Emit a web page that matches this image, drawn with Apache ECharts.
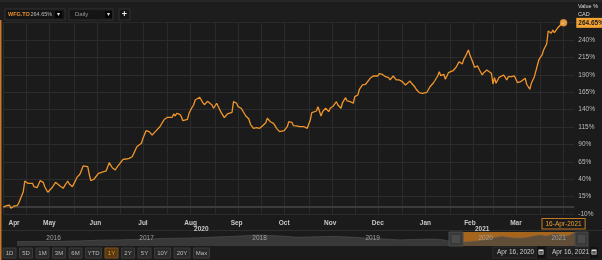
<!DOCTYPE html>
<html><head><meta charset="utf-8">
<script src="https://cdn.jsdelivr.net/npm/echarts@6/dist/echarts.min.js"></script>
<style>html,body{margin:0;padding:0;background:#1b1b1b}#c{width:602px;height:260px}</style>
</head><body><div id="c"></div>
<script>
// ---- data ----
const dates = ['2020-04-16','2020-04-18','2020-04-20','2020-04-21','2020-04-23','2020-04-25','2020-04-26','2020-04-27','2020-04-29','2020-04-30',
'2020-05-02','2020-05-03','2020-05-05','2020-05-06','2020-05-08','2020-05-09','2020-05-10','2020-05-12','2020-05-13','2020-05-15','2020-05-16','2020-05-18','2020-05-20','2020-05-21','2020-05-23','2020-05-25','2020-05-26','2020-05-28','2020-05-29','2020-05-31',
'2020-06-02','2020-06-03','2020-06-05','2020-06-07','2020-06-08','2020-06-10','2020-06-11','2020-06-12','2020-06-14','2020-06-15','2020-06-17','2020-06-19','2020-06-20','2020-06-22','2020-06-24','2020-06-26','2020-06-28','2020-06-29',
'2020-07-01','2020-07-03','2020-07-05','2020-07-07','2020-07-09','2020-07-10','2020-07-12','2020-07-13','2020-07-15','2020-07-16','2020-07-18','2020-07-20','2020-07-22','2020-07-24','2020-07-25','2020-07-27','2020-07-29','2020-07-30',
'2020-08-01','2020-08-02','2020-08-04','2020-08-05','2020-08-06','2020-08-07','2020-08-08','2020-08-09','2020-08-10','2020-08-11','2020-08-12','2020-08-14','2020-08-15','2020-08-17','2020-08-18','2020-08-19','2020-08-20','2020-08-22','2020-08-23','2020-08-24','2020-08-25','2020-08-27','2020-08-28','2020-08-30','2020-08-31',
'2020-09-02','2020-09-03','2020-09-05','2020-09-06','2020-09-07','2020-09-09','2020-09-10','2020-09-12','2020-09-13','2020-09-15','2020-09-16','2020-09-18','2020-09-21','2020-09-23','2020-09-24','2020-09-26','2020-09-28','2020-09-30',
'2020-10-02','2020-10-04','2020-10-05','2020-10-07','2020-10-09','2020-10-10','2020-10-11','2020-10-13','2020-10-14','2020-10-16','2020-10-18','2020-10-19','2020-10-21','2020-10-22','2020-10-24','2020-10-26','2020-10-27','2020-10-29','2020-10-30','2020-10-31',
'2020-11-02','2020-11-03','2020-11-04','2020-11-06','2020-11-07','2020-11-09','2020-11-10','2020-11-12','2020-11-14','2020-11-15','2020-11-17','2020-11-19','2020-11-20','2020-11-22','2020-11-23','2020-11-25','2020-11-26','2020-11-28','2020-11-30',
'2020-12-01','2020-12-03','2020-12-04','2020-12-06','2020-12-08','2020-12-09','2020-12-11','2020-12-13','2020-12-14','2020-12-16','2020-12-17','2020-12-19','2020-12-21','2020-12-23','2020-12-24','2020-12-26','2020-12-27','2020-12-28','2020-12-30',
'2021-01-01','2021-01-03','2021-01-04','2021-01-06','2021-01-07','2021-01-09','2021-01-10','2021-01-12','2021-01-14','2021-01-15','2021-01-17','2021-01-18','2021-01-19','2021-01-21','2021-01-22','2021-01-24','2021-01-25','2021-01-26','2021-01-28','2021-01-29','2021-01-31',
'2021-02-01','2021-02-03','2021-02-05','2021-02-07','2021-02-09','2021-02-10','2021-02-11','2021-02-13','2021-02-14','2021-02-16','2021-02-17','2021-02-19','2021-02-20','2021-02-22','2021-02-23','2021-02-25','2021-02-26','2021-02-28',
'2021-03-01','2021-03-02','2021-03-03','2021-03-05','2021-03-06','2021-03-08','2021-03-10','2021-03-11','2021-03-13','2021-03-15','2021-03-17','2021-03-19','2021-03-20','2021-03-22','2021-03-23','2021-03-25','2021-03-26','2021-03-28','2021-03-29','2021-03-31',
'2021-04-02','2021-04-03','2021-04-05','2021-04-06','2021-04-08','2021-04-09','2021-04-10','2021-04-12','2021-04-13','2021-04-14','2021-04-16'];
const values = [0,1.9,2.9,-1.8,1.5,1.9,5.4,7.7,22.0,37.4,
34.1,32.7,34.1,29.2,27.8,29.2,37.9,35.5,29.2,21.2,20.6,28.4,35.5,33.1,30.2,26.9,30.7,37.4,33.1,29.2,
37.9,42.7,47.5,59.0,60.4,58.0,47.0,37.9,39.9,42.7,48.5,49.9,49.9,51.8,63.7,56.5,53.2,57.1,
62.8,68.6,69.0,70.0,72.3,74.8,86.7,85.8,91.6,98.8,109.7,108.3,103.5,108.3,110.7,115.4,122.6,126.1,
128.9,127.5,128.9,133.7,130.8,134.7,135.6,133.3,129.8,124.1,124.1,126.1,134.7,143.3,146.6,153.8,156.3,157.7,156.3,149.9,147.0,151.9,151.4,146.6,141.9,
149.1,146.6,135.6,133.3,128.4,133.7,132.3,136.1,151.4,149.1,144.2,141.9,130.8,126.5,118.9,113.1,114.0,113.1,
116.9,121.2,127.5,122.6,120.3,116.9,113.1,108.3,110.7,109.7,115.4,122.6,121.8,116.9,116.5,115.4,116.9,115.4,117.9,113.1,
125.1,135.6,134.7,138.0,144.2,130.8,137.0,141.9,137.0,141.9,145.2,151.4,146.6,141.9,149.9,157.1,152.4,151.4,149.1,
158.6,161.0,169.2,175.4,176.4,177.8,185.0,188.3,189.7,188.3,191.6,190.5,187.3,185.9,182.6,188.3,188.3,182.6,182.6,
180.1,175.4,177.8,181.1,177.8,172.9,169.2,164.3,163.4,164.3,164.9,166.8,172.9,177.8,181.1,188.3,194.5,188.7,190.7,183.6,193.0,
192.2,195.9,200.8,208.9,205.6,212.3,216.0,225.7,218.5,207.4,200.8,202.7,197.9,189.7,193.0,196.9,199.4,192.2,
176.8,185.9,177.8,186.4,188.3,189.7,182.6,187.3,187.3,188.3,178.7,180.1,182.6,185.0,176.4,169.2,177.8,187.3,185.0,212.3,
218.5,225.7,234.3,253.0,249.7,254.4,250.5,256.8,257.7,261.6,264.65];
const yTicks = {min: -10, max: 265, step: 25};
const monthNames = ['Jan','Feb','Mar','Apr','May','Jun','Jul','Aug','Sep','Oct','Nov','Dec'];
const axisStart = '2020-04-16', axisEnd = '2021-04-23';
// navigator history (decimal year, relative level)
const navYears = [2016.354,2016.55,2016.73,2016.9,2017.09,2017.25,2017.4,2017.55,2017.68,2017.85,2017.97,2018.1,2018.27,2018.4,2018.48,2018.58,2018.68,2018.83,2018.95,2019.15,2019.3,2019.45,2019.6,2019.74,2019.88,2020.01,2020.1,2020.16,2020.23,2020.29,2020.37,2020.45,2020.55,2020.64,2020.75,2020.83,2020.92,2020.97,2021.04,2021.12,2021.17,2021.23,2021.29];
const navValues = [5,5.2,5.3,5.8,6.7,7.0,7.5,8.0,8.7,9.0,9.5,10.2,11,12,12.7,12.0,11.5,10,10.4,11,10.2,9,8,7,7.5,8,7.5,6,4,4.2,5.0,5.8,8.7,10.8,9.0,8.9,10.8,12.2,11.1,13.7,11.6,11.3,15.3];
const navYearLabels = [2016,2017,2018,2019,2020,2021];
const navRange = [2020.29, 2021.29];
const rangeButtons = ['1D','5D','1M','3M','6M','YTD','1Y','2Y','5Y','10Y','20Y','Max'];
const activeButton = '1Y';
const dateInputs = ['Apr 16, 2020','Apr 16, 2021'];
const ticker = 'WFG.TO', tickerVal = '264.65%', period = 'Daily';

// ---- categories: every calendar day on the axis ----
const cats = [];
{ let t = Date.parse(axisStart + 'T00:00:00Z'); const e = Date.parse(axisEnd + 'T00:00:00Z');
  while (t <= e) { cats.push(new Date(t).toISOString().slice(0,10)); t += 86400000; } }
const idxOf = {}; cats.forEach((c,i)=>idxOf[c]=i);
const lastIdx = idxOf[dates[dates.length-1]];
const lastVal = values[values.length-1];
const lineData = dates.map((d,i)=>[idxOf[d], values[i]]);

const monthCenter = {}; const yearCenter = {};
{ const spans = {}, ySpans = {};
  for (let i=0;i<=lastIdx;i++){ const k = cats[i].slice(0,7), y = cats[i].slice(0,4);
    (spans[k]=spans[k]||[i,i])[1]=i; (ySpans[y]=ySpans[y]||[i,i])[1]=i; }
  const keys = Object.keys(spans);
  keys.slice(0, keys.length-1).forEach(k=>{ const s=spans[k]; monthCenter[Math.floor((s[0]+s[1])/2)] = monthNames[+k.slice(5,7)-1]; });
  Object.keys(ySpans).forEach(y=>{ const s=ySpans[y]; yearCenter[Math.floor((s[0]+s[1])/2)] = y; });
}
function lastLabel(){ const d=new Date(dates[dates.length-1]+'T00:00:00Z'); return String(d.getUTCDate()).padStart(2,'0')+'-'+monthNames[d.getUTCMonth()]+'-'+d.getUTCFullYear(); }

const navStart = navYears[0], navEnd = navYears[navYears.length-1];
const navLabelPos = navYearLabels.map(y=>{ const a=Math.max(y,navStart), b=Math.min(y+1,navEnd); return (a+b)/2; });

const chart = echarts.init(document.getElementById('c'), null, {renderer:'canvas'});
const FONT = 'Liberation Sans';
const grid = '#2b2b2b';

const g = [];
g.push({type:'rect', shape:{x:0,y:0,width:602,height:21}, style:{fill:'#1d1d1d'}, z:-1});
g.push({type:'line', shape:{x1:0,y1:1,x2:602,y2:1}, style:{stroke:'#333',lineWidth:1}});
g.push({type:'line', shape:{x1:0,y1:230.5,x2:602,y2:230.5}, style:{stroke:'#2e2e2e',lineWidth:1}});
g.push({type:'rect', shape:{x:0,y:20,width:1.5,height:240}, style:{fill:'#c8782a'}});
g.push({type:'rect', shape:{x:5,y:9,width:60,height:11}, style:{fill:'#151515',stroke:'#333',lineWidth:1}});
g.push({type:'text', style:{x:8,y:14.5,text:ticker,fill:'#e8922a',font:'bold 5.5px '+FONT,verticalAlign:'middle'}});
g.push({type:'text', style:{x:30.5,y:14.5,text:tickerVal,fill:'#bbb',font:'5.5px '+FONT,verticalAlign:'middle'}});
g.push({type:'rect', shape:{x:55,y:11,width:7,height:7}, style:{fill:'#050505'}});
g.push({type:'text', style:{x:58.5,y:14.5,text:'▾',fill:'#ddd',font:'6px '+FONT,align:'center',verticalAlign:'middle'}});
g.push({type:'rect', shape:{x:69,y:9,width:44,height:11}, style:{fill:'#151515',stroke:'#333',lineWidth:1}});
g.push({type:'text', style:{x:75,y:14.5,text:period,fill:'#999',font:'6px '+FONT,verticalAlign:'middle'}});
g.push({type:'rect', shape:{x:105,y:11,width:7,height:7}, style:{fill:'#050505'}});
g.push({type:'text', style:{x:108.5,y:14.5,text:'▾',fill:'#ddd',font:'6px '+FONT,align:'center',verticalAlign:'middle'}});
g.push({type:'rect', shape:{x:119,y:9,width:11,height:11}, style:{fill:'#151515',stroke:'#333',lineWidth:1}});
g.push({type:'text', style:{x:124.5,y:14.5,text:'+',fill:'#eee',font:'bold 9px '+FONT,align:'center',verticalAlign:'middle'}});
g.push({type:'text', style:{x:578,y:6,text:'Value %',fill:'#ddd',font:'5.5px '+FONT,verticalAlign:'middle'}});
g.push({type:'text', style:{x:578,y:14,text:'CAD',fill:'#ddd',font:'5.5px '+FONT,verticalAlign:'middle'}});
{ let x = 3; rangeButtons.forEach(b=>{ const w = b.length<=2 ? 13 : 16; const act = b===activeButton;
    g.push({type:'rect', shape:{x:x,y:248,width:w,height:10}, style:{fill:act?'#5a3a12':'#2a2a2a',stroke:act?'#7a5020':'#3a3a3a',lineWidth:1}});
    g.push({type:'text', style:{x:x+w/2,y:253,text:b,fill:act?'#e8962a':'#bbb',font:'6px '+FONT,align:'center',verticalAlign:'middle'}});
    x += w + 3.5; }); }
[[493,44,537],[548,41,590]].forEach((p,i)=>{
  g.push({type:'rect', shape:{x:p[0],y:247,width:p[1],height:11}, style:{fill:'#1f1f1f',stroke:'#2c2c2c',lineWidth:1}});
  g.push({type:'text', style:{x:p[0]+4,y:252.5,text:dateInputs[i],fill:'#ccc',font:'6.5px '+FONT,verticalAlign:'middle'}});
  g.push({type:'rect', shape:{x:p[2],y:247,width:8,height:11}, style:{fill:'#111'}});
  g.push({type:'rect', shape:{x:p[2]+1.5,y:249.5,width:5,height:5}, style:{fill:'#ddd'}});
  g.push({type:'rect', shape:{x:p[2]+2.2,y:251,width:3.6,height:2.8}, style:{fill:'#555'}});
});
[[449,14],[575,13]].forEach(h=>{
  g.push({type:'rect', shape:{x:h[0],y:232,width:h[1],height:14}, style:{fill:'#3a3a3a',stroke:'#4a4a4a',lineWidth:1}, z:20});
  g.push({type:'rect', shape:{x:h[0]+3,y:235,width:h[1]-6,height:8}, style:{fill:'#4a4a4a'}, z:21});
});

const option = {
  backgroundColor: '#1b1b1b',
  animation: false,
  textStyle: {fontFamily: FONT},
  graphic: g,
  grid: [
    {left: 3.3, right: 27.7, top: 22.6, bottom: 46},
    {left: 17, right: 27, top: 232, height: 14}
  ],
  xAxis: [
    {type:'category', data:cats, boundaryGap:false, gridIndex:0, position:'bottom', offset:0,
     axisLine:{show:false}, axisTick:{show:false}, axisLabel:{show:false},
     splitLine:{show:true, interval:(i)=>{const d=cats[i].slice(8,10); return d==='01'||d==='16';}, lineStyle:{color:grid,width:1}}},
    {type:'category', data:cats, boundaryGap:false, gridIndex:0, z:5, position:'bottom', offset:0,
     axisLine:{show:false}, axisTick:{show:false}, splitLine:{show:false},
     axisLabel:{interval:(i)=>monthCenter[i]!==undefined, formatter:(v,i)=>monthCenter[i]||'', color:'#c8c8c8', fontSize:6.5, fontWeight:'bold', margin:6, hideOverlap:false}},
    {type:'category', data:cats, boundaryGap:false, gridIndex:0, z:5, position:'bottom', offset:0,
     axisLine:{show:false}, axisTick:{show:false}, splitLine:{show:false},
     axisLabel:{interval:(i)=>yearCenter[i]!==undefined, formatter:(v,i)=>yearCenter[i]||'', color:'#c8c8c8', fontSize:6.5, fontWeight:'bold', margin:11.5, hideOverlap:false}},
    {type:'category', data:cats, boundaryGap:false, gridIndex:0, z:6, position:'bottom', offset:0,
     axisLine:{show:false}, axisTick:{show:false}, splitLine:{show:false},
     axisLabel:{interval:(i)=>i===lastIdx, formatter:(v,i)=>i===lastIdx?lastLabel():'', color:'#f0a030', fontSize:6.5, margin:5,
       backgroundColor:'#1b1b1b', borderColor:'#c47a24', borderWidth:1, padding:[1.5,3,1,3], hideOverlap:false}},
    {type:'value', gridIndex:1, min:navStart, max:navEnd, z:10, position:'bottom',
     axisLine:{show:false}, axisTick:{show:false}, splitLine:{show:false},
     axisLabel:{inside:true, margin:4.5, customValues:navLabelPos, formatter:(v)=>{const k=navLabelPos.findIndex(p=>Math.abs(p-v)<1e-6); return k>=0?String(navYearLabels[k]):'';}, color:'#a0a0a0', fontSize:6.5}}
  ],
  yAxis: [
    {type:'value', gridIndex:0, position:'right', min:yTicks.min, max:yTicks.max, interval:yTicks.step,
     axisLine:{show:false}, axisTick:{show:false},
     splitLine:{lineStyle:{color:grid,width:1}},
     axisLabel:{formatter:'{value}%', color:'#bdbdbd', fontSize:6.5, margin:4, showMaxLabel:false}},
    {type:'value', gridIndex:1, min:0, max:16, show:false}
  ],
  series: [
    {type:'line', xAxisIndex:0, yAxisIndex:0, data:[], z:1, silent:true,
     markLine:{silent:true, z:1, symbol:['none','none'], animation:false, label:{show:false},
       lineStyle:{color:'#3c3c3c', width:2, type:'solid'}, data:[{yAxis:0}]}},
    {type:'line', xAxisIndex:0, yAxisIndex:0, data:lineData, showSymbol:false, z:3,
     lineStyle:{color:'#f0962b', width:1.3}, itemStyle:{color:'#f0962b'},
     markLine:{silent:true, symbol:['none','none'], animation:false, z:6,
       lineStyle:{color:'rgba(0,0,0,0)', width:0.1, type:'solid'},
       label:{show:true, position:'end', distance:2, formatter:lastVal.toFixed(2)+'%', color:'#1a1a1a',
         backgroundColor:'#f5a334', padding:[2,2,1,2], fontSize:6.5, fontWeight:'bold'},
       data:[{yAxis:lastVal}]}},
    {type:'scatter', xAxisIndex:0, yAxisIndex:0, data:[[lastIdx, lastVal]], symbolSize:6, z:4,
     itemStyle:{color:'#ffc46a', borderColor:'#f0962b', borderWidth:1.5}},
    {type:'line', xAxisIndex:4, yAxisIndex:1, data:navYears.map((y,i)=>[y,navValues[i]]), showSymbol:false, z:2,
     lineStyle:{color:'#555', width:0.6}, areaStyle:{color:'#444'},
     markArea:{silent:true, itemStyle:{color:'rgba(196,118,30,0.82)'}, data:[[{xAxis:navRange[0]},{xAxis:navRange[1]}]]}}
  ]
};
chart.setOption(option);
</script></body></html>
